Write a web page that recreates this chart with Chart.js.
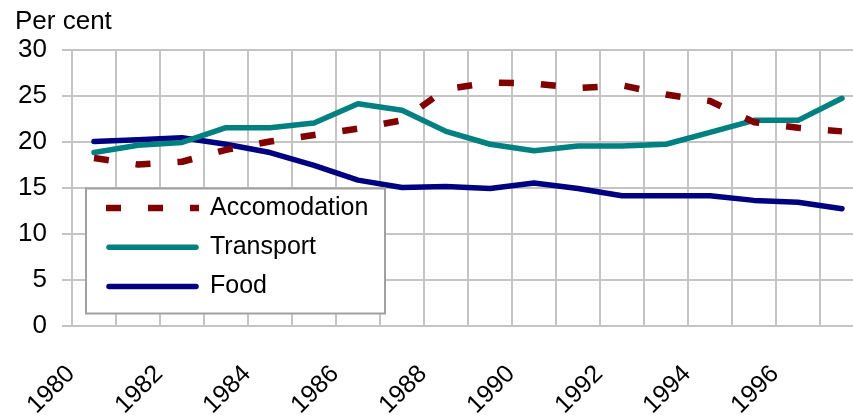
<!DOCTYPE html>
<html>
<head>
<meta charset="utf-8">
<script src="https://cdn.jsdelivr.net/npm/chart.js@4.4.1/dist/chart.umd.min.js"></script>
<style>
  html, body { margin: 0; padding: 0; background: #fff; overflow: hidden; }
  #wrap { width: 853px; height: 418px; overflow: hidden; }
  #wrap canvas { display: block; }
</style>
</head>
<body>
<div id="wrap"><canvas id="chart_spend" width="866" height="418"></canvas></div>
<script>
// spend.js

const YEARS = [ '1980', '1981', '1982', '1983', '1984', '1985', '1986', '1987', '1988',
  '1989', '1990', '1991', '1992', '1993', '1994', '1995', '1996', '1997' ];

const ACCOMODATION = [ 18.2, 17.5, 17.8, 19.1, 20.0, 20.7, 21.4, 22.3, 25.7,
  26.4, 26.3, 25.8, 26.1, 25.1, 24.4, 22.1, 21.5, 21.1 ];
const TRANSPORT = [ 18.8, 19.6, 19.9, 21.5, 21.5, 22.0, 24.1, 23.4, 21.1,
  19.7, 19.0, 19.5, 19.5, 19.7, 21.0, 22.3, 22.3, 24.7 ];
const FOOD = [ 20.0, 20.2, 20.4, 19.7, 18.8, 17.4, 15.8, 15.0, 15.1,
  14.9, 15.5, 14.9, 14.1, 14.1, 14.1, 13.6, 13.4, 12.7 ];

const Y_MIN = 0;
const Y_MAX = 30;
const Y_STEP = 5;

const FONT_FAMILY = '"Liberation Sans", Arial, sans-serif';
const GRID_COLOR = '#c4c4c4';

// legend in a box, drawn inside the plot like the original
const box_legend = {
  id: 'box_legend',
  afterDatasetsDraw( chart ) {
    const ctx = chart.ctx;
    const area = chart.chartArea;
    const left = area.left + 14;
    const top = area.bottom - 137;
    ctx.save();
    ctx.fillStyle = '#fff';
    ctx.fillRect( left, top, 299, 125 );
    ctx.strokeStyle = '#a0a0a0';
    ctx.lineWidth = 2;
    ctx.strokeRect( left, top, 299, 125 );
    ctx.font = '25px ' + FONT_FAMILY;
    ctx.textBaseline = 'middle';
    chart.data.datasets.forEach( ( ds, i ) => {
      const y = top + 19.5 + i * 39.3;
      const round = ds.borderCapStyle == 'round';
      ctx.beginPath();
      ctx.strokeStyle = ds.borderColor;
      ctx.lineWidth = ds.borderWidth;
      ctx.lineCap = ds.borderCapStyle;
      ctx.setLineDash( ds.borderDash || [] );
      ctx.moveTo( left + ( round ? 23 : 20 ), y );
      ctx.lineTo( left + ( round ? 110 : 113 ), y );
      ctx.stroke();
      ctx.setLineDash( [] );
      ctx.fillStyle = '#000';
      ctx.fillText( ds.label, left + 124, y );
    } );
    ctx.restore();
  }
};

function make_line( label, data, color, dash ) {
  return {
    label: label,
    data: data,
    borderColor: color,
    backgroundColor: color,
    borderWidth: dash ? 6.5 : 5.5,
    borderDash: dash || [],
    borderCapStyle: dash ? 'butt' : 'round',
    borderJoinStyle: 'round',
    pointRadius: 0,
    tension: 0,
    fill: false
  };
}

function create_chart() {
  const ctx = document.getElementById( 'chart_spend' ).getContext( '2d' );
  return new Chart( ctx, {
    type: 'line',
    data: {
      labels: YEARS,
      datasets: [
        make_line( 'Accomodation', ACCOMODATION, '#800000', [ 15, 27 ] ),
        make_line( 'Transport', TRANSPORT, '#008080' ),
        make_line( 'Food', FOOD, '#000080' )
      ]
    },
    options: {
      responsive: false,
      animation: false,
      layout: { padding: { left: 15, right: 2, top: 0, bottom: 0 } },
      plugins: {
        legend: { display: false },
        tooltip: { enabled: false },
        title: {
          display: true,
          text: 'Per cent',
          align: 'start',
          color: '#000',
          font: { family: FONT_FAMILY, size: 26, weight: 'normal', lineHeight: 1.2 },
          padding: { top: 6, bottom: 12.3 }
        }
      },
      scales: {
        x: {
          offset: true,
          grid: { color: GRID_COLOR, lineWidth: 2, offset: true, drawTicks: false },
          border: { color: GRID_COLOR, width: 2 },
          ticks: {
            autoSkip: false,
            minRotation: 45,
            maxRotation: 45,
            padding: 34,
            labelOffset: -23,
            color: '#000',
            font: { family: FONT_FAMILY, size: 25 },
            callback: function ( val, i ) {
              return i % 2 == 0 ? this.getLabelForValue( val ) : '';
            }
          },
          afterFit: scale => {
            scale.height = 92.5;
            // the plot runs past the right edge, as in the original
            scale.paddingLeft = 0;
            scale.paddingRight = 0;
          }
        },
        y: {
          min: Y_MIN,
          max: Y_MAX,
          grid: { color: GRID_COLOR, lineWidth: 2, tickLength: 10 },
          border: { color: GRID_COLOR, width: 2 },
          ticks: {
            stepSize: Y_STEP,
            padding: 15,
            color: '#000',
            font: { family: FONT_FAMILY, size: 26 }
          },
          afterFit: scale => { scale.width = 57; }
        }
      }
    },
    plugins: [ box_legend ]
  } );
}

document.addEventListener( "DOMContentLoaded", function () {
  create_chart();
} );
</script>
</body>
</html>
